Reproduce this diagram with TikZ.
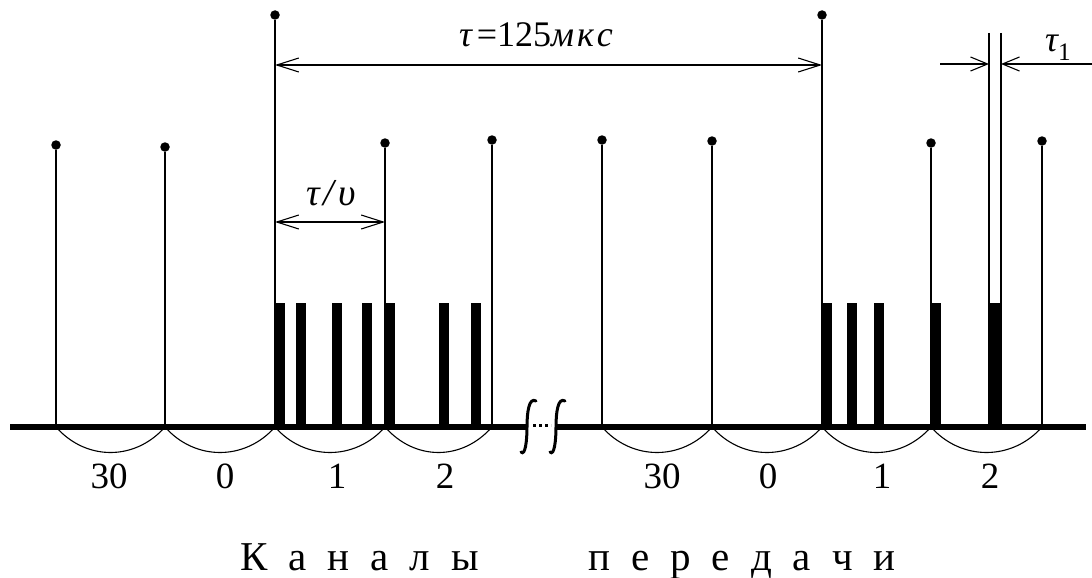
\documentclass[tikz,border=0pt]{standalone}
\usepackage{fontspec}
\setmainfont{Liberation Serif}
\usetikzlibrary{arrows.meta}

\begin{document}
\begin{tikzpicture}[
  x=1pt, y=-1pt,
  stem/.style={line width=1.3pt},
  dot/.style={circle, fill=black, inner sep=0pt, minimum size=9.5pt},
  axis/.style={line width=6pt},
  pulse/.style={fill=black},
  brc/.style={line width=1.1pt},
  brk/.style={line width=3pt, line cap=round},
  barb/.style={line width=1.1pt},
  dim/.style={barb, {Straight Barb[length=22pt,width=14pt]}-{Straight Barb[length=22pt,width=14pt]}},
  txt/.style={inner sep=0pt},
  chn/.style={txt, anchor=base, font=\fontsize{37}{40}\selectfont},
  lbl/.style={txt, anchor=base, font=\fontsize{36}{38}\selectfont},
  captxt/.style={txt, anchor=base west, font=\fontsize{41}{44}\selectfont}
]
\useasboundingbox (0,0) rectangle (1092,578);

% time axis with break
\coordinate (a0) at (10,427);
\coordinate (a1) at (527,427);
\coordinate (a2) at (556,427);
\coordinate (a3) at (1086,427);
\draw[axis] (a0) -- (a1);
\draw[axis] (a2) -- (a3);
\foreach \c in {527,556}
  \draw[brk] (\c+9,401) .. controls (\c+2,397) and (\c,412) .. (\c,427)
             .. controls (\c,442) and (\c-2,456) .. (\c-6,452);
\draw[line width=3pt, dash pattern=on 3pt off 3pt] (533,425) -- (551,425);

% sampling stems
\foreach \x/\y [count=\i] in {56/145,165/147,275/15,385/143,492/140,
                              602/140,712/141,822/15,931/143,1042/141} {
  \coordinate (b\i) at (\x,427);
  \node[dot] (d\i) at (\x,\y) {};
  \draw[stem] (d\i) -- (b\i);
}

% code pulses
\foreach \x in {275,296,332,362,385,439,471,822,847,874,931}
  \fill[pulse] (\x,303) rectangle (\x+10,427);
\fill[pulse] (989,303) rectangle (1001,427);

% channel intervals
\foreach \i/\j in {1/2,2/3,3/4,4/5,6/7,7/8,8/9,9/10}
  \draw[brc] (b\i) .. controls +(30,34) and +(-30,34) .. (b\j);

\node[chn] (c1) at (109,488) {30};
\node[chn] (c2) at (225,488) {0};
\node[chn] (c3) at (337,488) {1};
\node[chn] (c4) at (445,488) {2};
\node[chn] (c5) at (662,488) {30};
\node[chn] (c6) at (768,488) {0};
\node[chn] (c7) at (882,488) {1};
\node[chn] (c8) at (990,488) {2};

% frame period
\coordinate (t0) at (275,65);
\coordinate (t1) at (822,65);
\draw[dim] (t0) -- (t1);
\node[lbl] (tau) at (536,47)
  {{\itshape τ}\hspace{5pt}=125{\itshape м\hspace{3pt}к\hspace{3pt}с}};

% channel interval
\coordinate (h0) at (275,222);
\coordinate (h1) at (385,222);
\draw[dim] (h0) -- (h1);
\node[lbl, font=\fontsize{38}{40}\selectfont] (tauv) at (331,205)
  {\itshape τ\hspace{4pt}/\hspace{4pt}υ};

% pulse width
\coordinate (p0) at (989,33);
\coordinate (p1) at (989,427);
\coordinate (q0) at (1001,33);
\coordinate (q1) at (1001,427);
\draw[stem] (p0) -- (p1);
\draw[stem] (q0) -- (q1);
\coordinate (w0) at (940,64);
\coordinate (w1) at (989,64);
\coordinate (w2) at (1001,64);
\coordinate (w3) at (1092,64);
\draw[barb, -{Straight Barb[length=17pt,width=14pt]}] (w0) -- (w1);
\draw[barb, -{Straight Barb[length=17pt,width=14pt]}] (w3) -- (w2);
\node[lbl, anchor=base west] (tau1) at (1045,52) {{\itshape τ}\textsubscript{1}};

\node[captxt] (k1) at (240,570) {{\spaceskip=21pt К а н а л ы}};
\node[captxt] (k2) at (588,570) {{\spaceskip=21pt п е р е д а ч и}};
\end{tikzpicture}
\end{document}
